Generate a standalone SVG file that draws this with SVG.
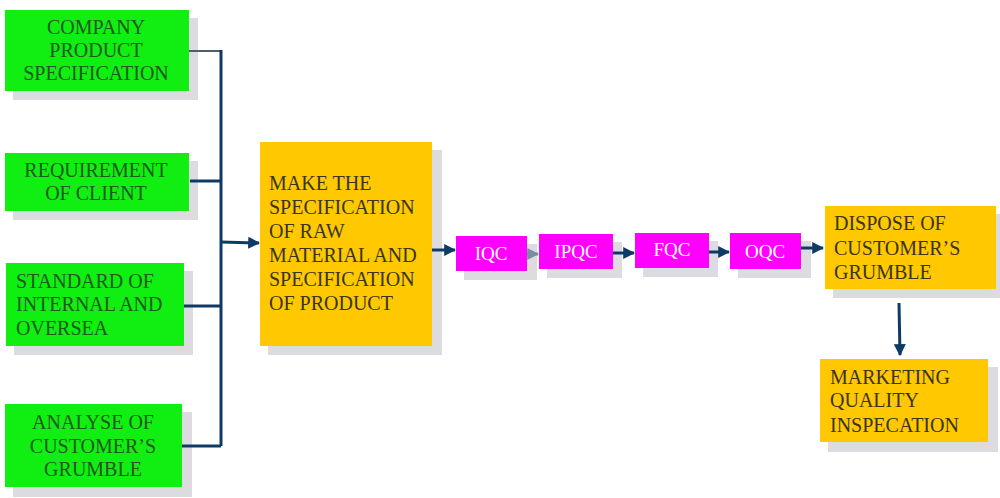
<svg xmlns="http://www.w3.org/2000/svg" width="1000" height="498" viewBox="0 0 1000 498">
<style>
.sh{fill:#dcdce0}
.g{fill:#11ee11}
.o{fill:#ffc800}
.m{fill:#ff00ff}
text{font-family:"Liberation Serif","Times New Roman",serif;font-size:20px}
.tg{fill:#1e5a1e}
.to{fill:#3a3418}
.tm{fill:#ffffff;font-size:19px}
.c{stroke:#0e3a66;stroke-width:3;fill:none}
</style>
<defs>
<marker id="ah" viewBox="0 0 10 10" refX="9" refY="5" markerWidth="4" markerHeight="4" orient="auto" markerUnits="strokeWidth">
<path d="M0,0 L10,5 L0,10 z" fill="#0e3a66"/>
</marker>
<marker id="ahg" viewBox="0 0 10 10" refX="9" refY="5" markerWidth="4" markerHeight="4" orient="auto" markerUnits="strokeWidth">
<path d="M0,0 L10,5 L0,10 z" fill="#7a8ea0"/>
</marker>
</defs>
<rect width="1000" height="498" fill="#ffffff"/>

<g id="company">
<rect class="sh" x="13" y="18" width="185" height="82"/>
<rect class="g" x="5" y="10" width="184" height="81"/>
<text class="tg" text-anchor="middle"><tspan x="96" y="34">COMPANY</tspan><tspan x="96" y="57">PRODUCT</tspan><tspan x="96" y="80">SPECIFICATION</tspan></text>
</g>

<g id="requirement">
<rect class="sh" x="13" y="161" width="185" height="59"/>
<rect class="g" x="5" y="153" width="184" height="58"/>
<text class="tg" text-anchor="middle"><tspan x="96" y="177">REQUIREMENT</tspan><tspan x="96" y="200">OF CLIENT</tspan></text>
</g>

<g id="standard">
<rect class="sh" x="14" y="271" width="179" height="84"/>
<rect class="g" x="6" y="263" width="178" height="83"/>
<text class="tg"><tspan x="16" y="288">STANDARD OF</tspan><tspan x="16" y="311">INTERNAL AND</tspan><tspan x="16" y="335">OVERSEA</tspan></text>
</g>

<g id="analyse">
<rect class="sh" x="13" y="412" width="179" height="85"/>
<rect class="g" x="5" y="404" width="177" height="83"/>
<text class="tg" text-anchor="middle"><tspan x="93" y="429">ANALYSE OF</tspan><tspan x="93" y="453">CUSTOMER’S</tspan><tspan x="93" y="476">GRUMBLE</tspan></text>
</g>

<g id="make">
<rect class="sh" x="268" y="150" width="174" height="205"/>
<rect class="o" x="260" y="142" width="172" height="204"/>
<text class="to"><tspan x="269" y="190">MAKE THE</tspan><tspan x="269" y="214">SPECIFICATION</tspan><tspan x="269" y="238">OF RAW</tspan><tspan x="269" y="262">MATERIAL AND</tspan><tspan x="269" y="286">SPECIFICATION</tspan><tspan x="269" y="310">OF PRODUCT</tspan></text>
</g>

<g id="iqc">
<rect class="sh" x="464" y="244" width="73" height="36"/>
<rect class="m" x="456" y="236" width="71" height="35"/>
<text class="tm" x="491" y="260" text-anchor="middle">IQC</text>
</g>

<g id="ipqc">
<rect class="sh" x="547" y="242" width="75" height="36"/>
<rect class="m" x="539" y="234" width="74" height="35"/>
<text class="tm" x="576" y="258" text-anchor="middle">IPQC</text>
</g>

<g id="fqc">
<rect class="sh" x="643" y="241" width="75" height="36"/>
<rect class="m" x="635" y="233" width="74" height="35"/>
<text class="tm" x="672" y="256" text-anchor="middle">FQC</text>
</g>

<g id="oqc">
<rect class="sh" x="738" y="241" width="73" height="37"/>
<rect class="m" x="730" y="233" width="71" height="36"/>
<text class="tm" x="765" y="258" text-anchor="middle">OQC</text>
</g>

<g id="dispose">
<rect class="sh" x="833" y="214" width="167" height="84"/>
<rect class="o" x="825" y="206" width="171" height="83"/>
<text class="to"><tspan x="834" y="230">DISPOSE OF</tspan><tspan x="834" y="255">CUSTOMER’S</tspan><tspan x="834" y="279">GRUMBLE</tspan></text>
</g>

<g id="marketing">
<rect class="sh" x="828" y="367" width="170" height="85"/>
<rect class="o" x="820" y="359" width="168" height="83"/>
<text class="to"><tspan x="830" y="384">MARKETING</tspan><tspan x="830" y="407">QUALITY</tspan><tspan x="830" y="432">INSPECATION</tspan></text>
</g>

<g id="connectors">
<path d="M189,51 H221" stroke="#4a6070" stroke-width="2" fill="none"/>
<path class="c" d="M221,50 V446"/>
<path class="c" d="M190,181 H221"/>
<path class="c" d="M184,306 H221"/>
<path class="c" d="M182,446 H221"/>
<path class="c" d="M221,242 L259,243" marker-end="url(#ah)"/>
<path class="c" d="M432,250 L455,250" marker-end="url(#ah)"/>
<path d="M527,254 L538,254" stroke="#7a8ea0" stroke-width="3" fill="none" marker-end="url(#ahg)"/>
<path class="c" d="M613,253 L634,253" marker-end="url(#ah)"/>
<path class="c" d="M709,252 L729,252" marker-end="url(#ah)"/>
<path class="c" d="M801,248 L823,248" marker-end="url(#ah)"/>
<path class="c" d="M899,303 L900,355" marker-end="url(#ah)"/>
</g>
</svg>
